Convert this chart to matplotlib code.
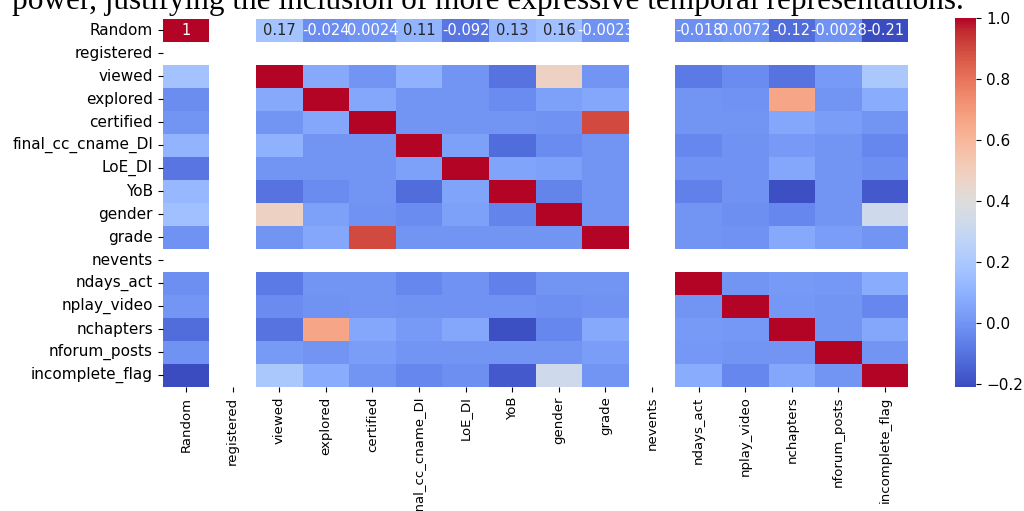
import numpy as np
import matplotlib
matplotlib.use("Agg")
import matplotlib.pyplot as plt
import seaborn as sns

# variable names (rows and columns of the correlation matrix)
labels = ['Random', 'registered', 'viewed', 'explored', 'certified',
          'final_cc_cname_DI', 'LoE_DI', 'YoB', 'gender', 'grade', 'nevents',
          'ndays_act', 'nplay_video', 'nchapters', 'nforum_posts', 'incomplete_flag']

# constant columns -> correlation undefined
nan_vars = ['registered', 'nevents']

# correlation rows for the non-constant variables (order without registered / nevents)
vars_ok = ['Random', 'viewed', 'explored', 'certified', 'final_cc_cname_DI', 'LoE_DI',
           'YoB', 'gender', 'grade', 'ndays_act', 'nplay_video', 'nchapters',
           'nforum_posts', 'incomplete_flag']
corr_rows = [
    [1, 0.17, -0.024, 0.0024, 0.11, -0.092, 0.13, 0.16, -0.0023, -0.018, 0.0072, -0.12, -0.0028, -0.21],
    [0.17, 1, 0.07, 0.0, 0.10, 0.0, -0.10, 0.48, 0.0, -0.08, -0.03, -0.10, 0.02, 0.20],
    [-0.024, 0.07, 1, 0.06, 0.0, 0.0, -0.03, 0.04, 0.06, 0.0, -0.01, 0.66, 0.0, 0.08],
    [0.0024, 0.0, 0.06, 1, 0.0, 0.0, 0.0, -0.01, 0.90, 0.0, 0.0, 0.06, 0.03, 0.0],
    [0.11, 0.10, 0.0, 0.0, 1, 0.04, -0.12, -0.03, 0.0, -0.04, -0.01, 0.02, 0.0, -0.04],
    [-0.092, 0.0, 0.0, 0.0, 0.04, 1, 0.05, 0.04, 0.0, -0.01, -0.01, 0.06, 0.0, -0.02],
    [0.13, -0.10, -0.03, 0.0, -0.12, 0.05, 1, -0.05, 0.0, -0.06, -0.01, -0.20, 0.0, -0.17],
    [0.16, 0.48, 0.04, -0.01, -0.03, 0.04, -0.05, 1, 0.0, 0.0, -0.02, -0.04, 0.0, 0.33],
    [-0.0023, 0.0, 0.06, 0.90, 0.0, 0.0, 0.0, 0.0, 1, 0.0, -0.01, 0.07, 0.03, 0.0],
    [-0.018, -0.08, 0.0, 0.0, -0.04, -0.01, -0.06, 0.0, 0.0, 1, 0.0, 0.02, 0.01, 0.08],
    [0.0072, -0.03, -0.01, 0.0, -0.01, -0.01, -0.01, -0.02, -0.01, 0.0, 1, 0.01, 0.0, -0.04],
    [-0.12, -0.10, 0.66, 0.06, 0.02, 0.06, -0.20, -0.04, 0.07, 0.02, 0.01, 1, 0.0, 0.06],
    [-0.0028, 0.02, 0.0, 0.03, 0.0, 0.0, 0.0, 0.0, 0.03, 0.01, 0.0, 0.0, 1, 0.0],
    [-0.21, 0.20, 0.08, 0.0, -0.04, -0.02, -0.17, 0.33, 0.0, 0.08, -0.04, 0.06, 0.0, 1],
]

top_text = "power, justifying the inclusion of more expressive temporal representations."

# build full matrix with NaN rows/cols
n = len(labels)
corr = np.full((n, n), np.nan)
idx = [labels.index(v) for v in vars_ok]
for i, row in zip(idx, corr_rows):
    for j, val in zip(idx, row):
        corr[i, j] = val

# only the first row is annotated in the original
annot = np.full((n, n), '', dtype=object)
for j in range(n):
    if not np.isnan(corr[0, j]):
        annot[0, j] = '{:.2g}'.format(corr[0, j])

fig = plt.figure(figsize=(10.24, 5.11), dpi=100)
ax = fig.add_axes([0.159, 0.243, 0.728, 0.720])
cax = fig.add_axes([0.933, 0.243, 0.0205, 0.722])

sns.heatmap(corr, annot=annot, fmt='', cmap='coolwarm', ax=ax, cbar_ax=cax,
            xticklabels=labels, yticklabels=labels,
            annot_kws={'fontsize': 10.5})

ax.tick_params(axis='y', labelsize=11)
ax.tick_params(axis='x', labelsize=9.5)
plt.setp(ax.get_xticklabels(), rotation=90)
plt.setp(ax.get_yticklabels(), rotation=0)
cax.tick_params(labelsize=11)

fig.text(0.012, 0.983, top_text, family='Liberation Serif', fontsize=22.5,
         va='baseline', ha='left')

plt.savefig("out.png", dpi=100)
